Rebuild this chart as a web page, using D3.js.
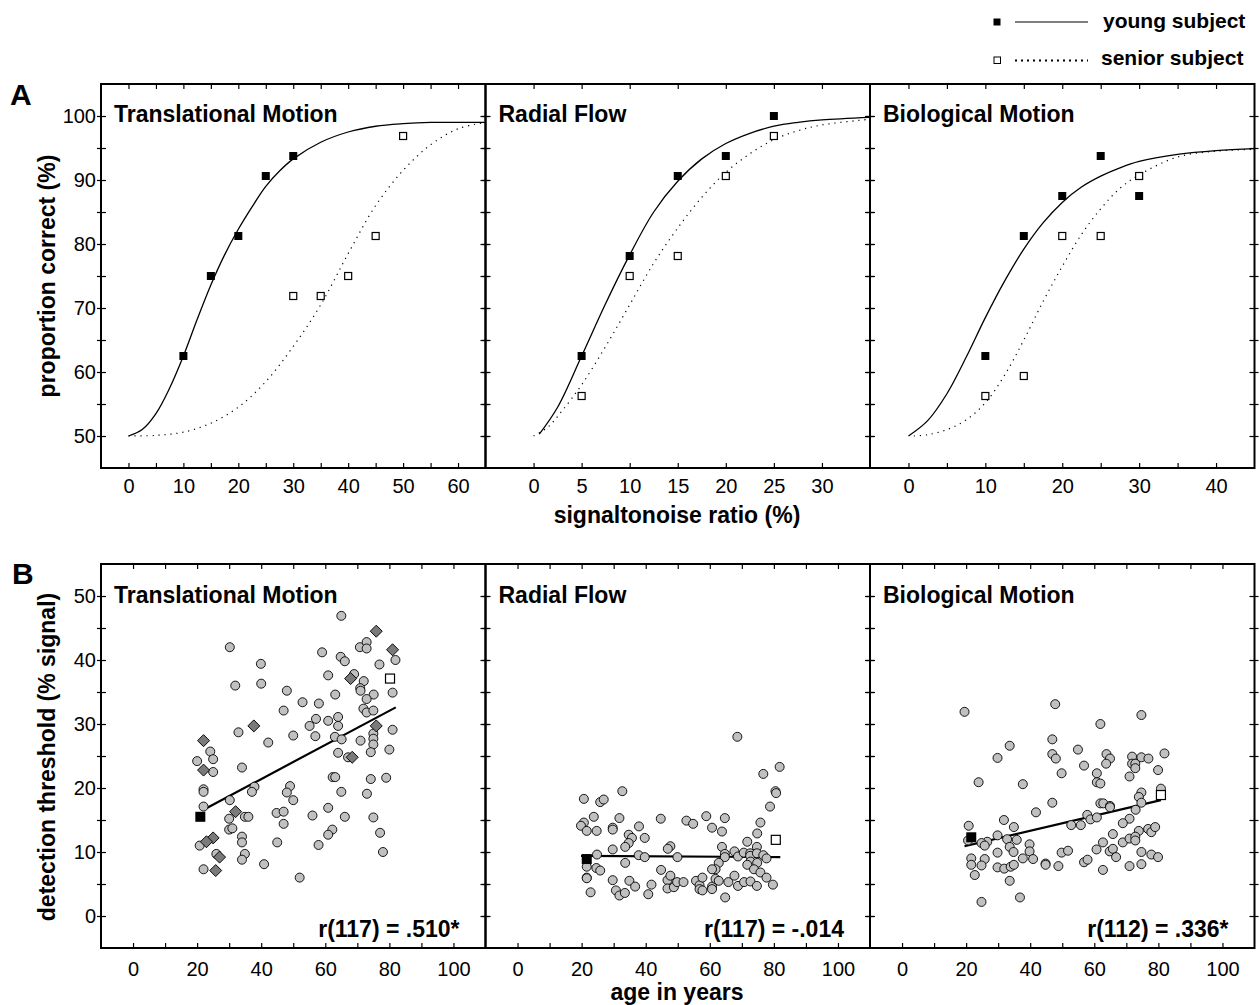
<!DOCTYPE html>
<html>
<head>
<meta charset="utf-8">
<script src="https://cdn.jsdelivr.net/npm/d3@7"></script>
<style>
  body { margin: 0; background: #fff; }
  text { font-family: "Liberation Sans", Arial, sans-serif; }
</style>
</head>
<body>
<svg id="chart"></svg>
<script>
// panel names and correlation labels
const taskNames = ["Translational Motion", "Radial Flow", "Biological Motion"];
const corrLabels = ["r(117) = .510*", "r(117) = -.014", "r(112) = .336*"];

// A: proportion correct (%) against signal-to-noise ratio (%)
const transYoung = [[10, 62.5], [15, 75], [20, 81.25], [25, 90.625], [30, 93.75]];
const transSenior = [[30, 71.875], [35, 71.875], [40, 75], [45, 81.25], [50, 96.875]];
const radialYoung = [[5, 62.5], [10, 78.125], [15, 90.625], [20, 93.75], [25, 100]];
const radialSenior = [[5, 56.25], [10, 75], [15, 78.125], [20, 90.625], [25, 96.875]];
const bioYoung = [[10, 62.5], [15, 81.25], [20, 87.5], [25, 93.75], [30, 87.5]];
const bioSenior = [[10, 56.25], [15, 59.375], [20, 81.25], [25, 81.25], [30, 90.625]];

// fitted curves
const transYoungCurve = [[0, 50], [2.5, 51], [5, 53.5], [7.5, 57.5], [10, 62.5], [12.5, 68.2], [15, 73.6],
  [17.5, 78.3], [20, 82.3], [22.5, 85.8], [25, 89], [27.5, 91.4], [30, 93.3], [35, 95.9], [40, 97.5],
  [45, 98.4], [50, 98.8], [55, 99], [60, 99], [65, 99]];
const transSeniorCurve = [[0, 50], [5, 50.1], [10, 50.6], [15, 52], [20, 54.5], [25, 58.5], [30, 64],
  [35, 70.5], [40, 78.5], [45, 86], [50, 91.5], [55, 95.5], [60, 98], [65, 99]];
const radialYoungCurve = [[0.6, 50.3], [2.5, 54.5], [5, 62.5], [7.5, 70.7], [10, 78.3], [12.5, 85],
  [15, 89.8], [17.5, 93.3], [20, 95.7], [22.5, 97.3], [25, 98.4], [27.5, 99], [30, 99.4], [35, 99.8]];
const radialSeniorCurve = [[0, 50], [1.5, 51.4], [3, 54], [5, 58], [7.5, 64], [10, 70.5], [12.5, 77],
  [15, 82.5], [17.5, 87.3], [20, 91.2], [22.5, 94.1], [25, 96.3], [27.5, 97.7], [30, 98.6], [35, 99.5]];
const bioYoungCurve = [[0, 50], [2.5, 52.4], [5, 56.6], [7.5, 62.3], [10, 68.5], [12.5, 74.2], [15, 79.2],
  [17.5, 83.3], [20, 86.5], [22.5, 88.9], [25, 90.6], [27.5, 91.9], [30, 92.9], [35, 94], [40, 94.6], [45, 94.9]];
const bioSeniorCurve = [[0.7, 50], [2.5, 50.2], [5, 51], [7.5, 52.5], [10, 55.2], [12.5, 59.5], [15, 65],
  [17.5, 71], [20, 76.5], [22.5, 81.5], [25, 85.5], [27.5, 88.7], [30, 90.8], [35, 93.6], [40, 94.5], [45, 94.8]];

// B: detection threshold (% signal) against age in years
const transAgeThr = [[65, 46.9], [30.2, 42.0], [59, 41.2], [39.9, 39.4], [64.8, 40.5], [66.1, 39.8],
  [70.8, 42.0], [72.9, 42.8], [72.9, 41.8], [76.9, 39.3], [81.9, 40.0], [31.9, 36.0], [40, 36.3],
  [60.9, 37.6], [69, 37.8], [72, 36.7], [70.9, 35.6], [71, 35.2], [81, 34.9], [75.1, 34.6], [48, 35.2],
  [63.1, 34.6], [72.9, 33.9], [52.9, 33.4], [58, 33.2], [47, 32.1], [71.9, 32.4], [72.9, 31.8], [75, 32.1],
  [57.1, 30.8], [64, 31.1], [60.9, 30.5], [55.1, 29.7], [64, 29.7], [32.9, 28.7], [50, 28.2], [56.9, 28.1],
  [63, 28.0], [65.1, 27.6], [42.2, 27.1], [71, 27.4], [75, 28.5], [75, 27.7], [75, 26.8], [81, 29.1],
  [64, 25.5], [74.2, 25.6], [80, 26.0], [24.1, 25.7], [20, 24.2], [25, 24.5], [25, 22.5], [67.1, 24.8],
  [34, 23.2], [62.3, 21.7], [63.1, 21.7], [74.2, 21.4], [79, 21.6], [22, 19.8], [22, 19.4], [37.9, 20.2],
  [37.1, 19.4], [49, 20.3], [48, 19.3], [50, 18.1], [65, 19.4], [73, 19.1], [30.2, 18.1], [22, 17.1],
  [60.9, 16.9], [44.8, 16.1], [47, 16.3], [56, 15.7], [34.9, 15.5], [36, 15.5], [30, 15.2], [66.1, 15.5],
  [75, 15.4], [47, 14.4], [30, 13.5], [31, 13.7], [34, 12.4], [34, 11.5], [62.2, 13.5], [60.9, 12.7],
  [77.1, 13.0], [20.8, 11.0], [45, 11.5], [57.9, 11.1], [78, 10.0], [34.9, 9.7], [34, 8.8], [26, 9.7],
  [40.9, 8.1], [22, 7.3], [52, 6.0]];
const transOutliers = [[75.9, 44.5], [81, 41.6], [67.9, 37.1], [37.7, 29.7], [75.9, 29.7], [22, 27.4],
  [22, 22.8], [68.4, 24.8], [32, 16.3], [25, 12.2], [22.9, 11.6], [27, 9.2], [25.8, 7.1]];
const radialAgeThr = [[68.6, 28.0], [81.8, 23.3], [76.7, 22.2], [80.5, 19.5], [80.7, 19.2], [78.8, 17.1],
  [20.7, 18.3], [25.8, 17.8], [26.9, 18.2], [32.7, 19.5], [23.8, 15.5], [20.7, 14.6], [19.8, 14.1],
  [21.6, 13.3], [24.7, 13.3], [29.7, 13.8], [29.7, 13.5], [31.8, 15.3], [37.9, 14.0], [44.7, 15.2],
  [52.7, 14.9], [54.8, 14.4], [58.9, 15.6], [64.7, 15.3], [60.7, 13.8], [63.8, 13.2], [75.8, 14.6],
  [74.8, 12.9], [34.7, 12.7], [35.7, 12.2], [34.7, 11.4], [39.7, 12.2], [33.6, 10.8], [29.7, 10.4],
  [47.7, 10.9], [46.9, 10.5], [63.8, 10.8], [71.7, 11.6], [74.7, 10.8], [67.7, 10.1], [24.8, 9.6],
  [37.8, 9.5], [39.7, 9.2], [49.9, 9.2], [64.7, 9.7], [64.7, 9.2], [68.8, 9.3], [70.6, 9.9], [72.6, 9.8],
  [72.6, 9.4], [74.7, 9.8], [76.7, 9.5], [77.7, 9.0], [21.6, 7.7], [33.6, 8.3], [62.8, 8.3], [61.8, 7.3],
  [60.7, 7.3], [72.7, 8.5], [71.7, 8.0], [74.8, 8.3], [73.8, 7.3], [75.8, 6.8], [24.6, 7.5], [25.8, 7.1],
  [44.8, 7.2], [21.6, 6.0], [21.6, 5.9], [29.7, 5.6], [34.9, 5.5], [36.7, 4.6], [30.7, 4.0], [31.8, 3.2],
  [33.5, 3.6], [40.8, 3.4], [41.8, 4.9], [46.8, 5.6], [47.7, 6.3], [46.8, 4.3], [48.8, 4.5], [49.8, 5.3],
  [51.8, 5.3], [55.7, 5.5], [56.8, 4.8], [56.8, 4.2], [57.7, 4.0], [57.7, 6.0], [60.7, 4.6], [60.7, 4.2],
  [61.8, 5.8], [62.8, 5.5], [64.8, 2.9], [65.8, 5.3], [67.7, 6.3], [68.8, 4.7], [70.7, 5.3], [72.7, 5.4],
  [74.7, 4.7], [77.7, 6.0], [79.7, 4.9], [22.8, 3.7]];
const bioAgeThr = [[19.5, 31.9], [47.8, 33.1], [74.7, 31.4], [61.9, 30.0], [33.6, 26.6], [46.9, 27.6],
  [46.9, 25.3], [48, 24.6], [54.9, 26.0], [29.8, 24.7], [63.8, 25.3], [64.9, 24.6], [63.7, 23.8],
  [71.8, 24.9], [74.7, 24.8], [76.9, 24.6], [81.9, 25.4], [71.8, 23.8], [72.8, 23.8], [72.8, 23.1],
  [56.8, 23.5], [49.8, 22.3], [60.8, 22.3], [79.9, 22.8], [71, 21.8], [23.9, 20.9], [37.7, 20.6],
  [60.8, 20.9], [61.9, 20.7], [74.7, 19.3], [73.9, 18.6], [80.8, 19.9], [46.9, 17.7], [61.9, 17.6],
  [62.8, 17.6], [64.9, 17.2], [64.9, 17.0], [74.7, 17.7], [72.9, 16.6], [41.8, 16.2], [57.8, 15.8],
  [58.8, 15.1], [60.8, 15.4], [31.8, 15.0], [20.8, 14.1], [52.8, 14.2], [55.8, 14.2], [34.9, 13.9],
  [71, 15.2], [68.9, 14.5], [76.8, 13.6], [77.8, 13.1], [79, 13.9], [73.9, 13.3], [65.8, 12.8],
  [29.8, 12.6], [20.6, 11.8], [26.6, 11.6], [24.8, 11.4], [25.8, 11.0], [32.8, 12.0], [35.8, 11.9],
  [39.8, 11.2], [33.6, 10.8], [34.8, 10.0], [29.8, 9.9], [39.8, 10.1], [62.7, 11.5], [60.7, 10.4],
  [64.8, 10.1], [65.8, 10.5], [68.9, 11.5], [71, 12.1], [72.8, 12.4], [72.8, 11.8], [49.8, 9.9],
  [51.8, 10.2], [66.8, 9.2], [74.7, 10.0], [77.8, 9.6], [79.9, 9.2], [21.6, 9.0], [37.7, 9.0],
  [40.9, 8.9], [25.8, 8.9], [21.6, 8.0], [24.8, 7.9], [29.8, 7.6], [31.9, 7.4], [33.9, 7.7], [34.9, 8.0],
  [44.8, 8.2], [44.8, 8.0], [48.8, 7.8], [56.8, 8.4], [57.9, 8.8], [62.7, 7.2], [71, 7.8], [74.7, 8.1],
  [22.7, 6.4], [33.6, 5.5], [36.8, 2.9], [24.8, 2.2]];

// the young (filled) and senior (open) subject of part A, marked in part B
const youngInB = [[21, 15.5], [21.6, 8.9], [21.6, 12.3]];
const seniorInB = [[80.2, 37.1], [80.6, 11.9], [80.8, 18.9]];
// regression lines: start and end
const transFit = [[22, 16.6], [82, 32.6]];
const radialFit = [[19.8, 9.4], [82, 9.2]];
const bioFit = [[19.5, 10.9], [80.8, 18.1]];

// ticks and tick labels
const snrTicks = [[0, 5, 10, 15, 20, 25, 30, 35, 40, 45, 50, 55, 60], [0, 5, 10, 15, 20, 25, 30],
  [0, 5, 10, 15, 20, 25, 30, 35, 40]];
const snrLabels = [[0, 10, 20, 30, 40, 50, 60], [0, 5, 10, 15, 20, 25, 30], [0, 10, 20, 30, 40]];
const pcTicks = [50, 55, 60, 65, 70, 75, 80, 85, 90, 95, 100];
const pcLabels = [50, 60, 70, 80, 90, 100];
const ageTicks = [0, 10, 20, 30, 40, 50, 60, 70, 80, 90, 100];
const ageLabels = [0, 20, 40, 60, 80, 100];
const thrTicks = [0, 5, 10, 15, 20, 25, 30, 35, 40, 45, 50];
const thrLabels = [0, 10, 20, 30, 40, 50];

// layout
let width = 1260, height = 1005;
let panelX = [101, 485.5, 870];
let panelW = 384.5, panelH = 384;
let topA = 84, topB = 564;
let snrDomains = [[-5, 65], [-5, 35], [-5, 45]];

let svg = d3.select("#chart").attr("width", width).attr("height", height);

let drawFrame = function(g, x, y, xTicks, xLabels, yTicks, yLabels, first, pad) {
  let fmt = labels => d => (labels.includes(d) ? d : "");
  g.append("g")
    .attr("transform", `translate(0,${panelH})`)
    .call(d3.axisBottom(x).tickValues(xTicks).tickSize(-5).tickPadding(pad).tickFormat(fmt(xLabels)));
  g.append("g").call(d3.axisTop(x).tickValues(xTicks).tickSize(-5).tickFormat(""));
  // left edge: ticks cross the line
  g.append("g").call(d3.axisLeft(y).tickValues(yTicks).tickSize(4).tickPadding(1)
    .tickFormat(first ? fmt(yLabels) : ""));
  g.append("g").call(d3.axisRight(y).tickValues(yTicks).tickSize(5).tickFormat(""));
  g.append("g").attr("transform", `translate(${panelW},0)`)
    .call(d3.axisRight(y).tickValues(yTicks).tickSize(4).tickFormat(""));
  g.append("g").attr("transform", `translate(${panelW},0)`)
    .call(d3.axisLeft(y).tickValues(yTicks).tickSize(5).tickFormat(""));
  g.selectAll(".domain").remove();
  g.selectAll(".tick line").attr("stroke-width", 1.2);
  g.selectAll(".tick text")
    .attr("font-size", 20)
    .attr("font-family", '"Liberation Sans", Arial, sans-serif');
  g.append("rect")
    .attr("width", panelW)
    .attr("height", panelH)
    .attr("fill", "none")
    .attr("stroke", "#000")
    .attr("stroke-width", 2);
};

let title = function(g, txt, yy) {
  g.append("text")
    .attr("x", 13)
    .attr("y", yy)
    .attr("font-size", 23)
    .attr("font-weight", "bold")
    .text(txt);
};

// ---- part A ----
let youngA = [transYoung, radialYoung, bioYoung];
let seniorA = [transSenior, radialSenior, bioSenior];
let youngCurves = [transYoungCurve, radialYoungCurve, bioYoungCurve];
let seniorCurves = [transSeniorCurve, radialSeniorCurve, bioSeniorCurve];
let pcScale = d3.scaleLinear().domain([45, 105]).range([panelH, 0]);

taskNames.forEach(function(name, i) {
  let g = svg.append("g").attr("transform", `translate(${panelX[i]},${topA})`);
  let x = d3.scaleLinear().domain(snrDomains[i]).range([0, panelW]);
  let line = d3.line().x(d => x(d[0])).y(d => pcScale(d[1])).curve(d3.curveCatmullRom);

  g.append("path")
    .attr("d", line(seniorCurves[i]))
    .attr("fill", "none")
    .attr("stroke", "#000")
    .attr("stroke-width", 1.2)
    .attr("stroke-dasharray", "1.2,4.8");
  g.append("path")
    .attr("d", line(youngCurves[i]))
    .attr("fill", "none")
    .attr("stroke", "#000")
    .attr("stroke-width", 1.3);

  g.selectAll(".sen")
    .data(seniorA[i])
    .join("rect")
    .attr("x", d => x(d[0]) - 3.5)
    .attr("y", d => pcScale(d[1]) - 3.5)
    .attr("width", 7)
    .attr("height", 7)
    .attr("fill", "#fff")
    .attr("stroke", "#000")
    .attr("stroke-width", 1.2);
  g.selectAll(".yng")
    .data(youngA[i])
    .join("rect")
    .attr("x", d => x(d[0]) - 4)
    .attr("y", d => pcScale(d[1]) - 4)
    .attr("width", 8)
    .attr("height", 8)
    .attr("fill", "#000");

  drawFrame(g, x, pcScale, snrTicks[i], snrLabels[i], pcTicks, pcLabels, i === 0, 11);
  title(g, name, 38);
});

// ---- part B ----
let circlesB = [transAgeThr, radialAgeThr, bioAgeThr];
let fitsB = [transFit, radialFit, bioFit];
let ageScale = d3.scaleLinear().domain([-10, 110]).range([0, panelW]);
let thrScale = d3.scaleLinear().domain([-5, 55]).range([panelH, 0]);

taskNames.forEach(function(name, i) {
  let g = svg.append("g").attr("transform", `translate(${panelX[i]},${topB})`);
  let fit = d3.line().x(d => ageScale(d[0])).y(d => thrScale(d[1]));

  g.append("path")
    .attr("d", fit(fitsB[i]))
    .attr("stroke", "#000")
    .attr("stroke-width", 2.2);

  g.selectAll("circle")
    .data(circlesB[i])
    .join("circle")
    .attr("cx", d => ageScale(d[0]))
    .attr("cy", d => thrScale(d[1]))
    .attr("r", 4.5)
    .attr("fill", "#c0c0c0")
    .attr("stroke", "#000")
    .attr("stroke-width", 0.9);

  if (i === 0) {
    g.selectAll(".dia")
      .data(transOutliers)
      .join("path")
      .attr("d", d3.symbol(d3.symbolSquare, 72))
      .attr("transform", d => `translate(${ageScale(d[0])},${thrScale(d[1])}) rotate(45)`)
      .attr("fill", "#7a7a7a")
      .attr("stroke", "#000")
      .attr("stroke-width", 0.9);
  }

  g.append("rect")
    .attr("x", ageScale(seniorInB[i][0]) - 4.5)
    .attr("y", thrScale(seniorInB[i][1]) - 4.5)
    .attr("width", 9)
    .attr("height", 9)
    .attr("fill", "#fff")
    .attr("stroke", "#000")
    .attr("stroke-width", 1.2);
  g.append("rect")
    .attr("x", ageScale(youngInB[i][0]) - 5)
    .attr("y", thrScale(youngInB[i][1]) - 5)
    .attr("width", 10)
    .attr("height", 10)
    .attr("fill", "#000");

  drawFrame(g, ageScale, thrScale, ageTicks, ageLabels, thrTicks, thrLabels, i === 0, 14);
  title(g, name, 39);

  g.append("text")
    .attr("x", panelW - 26)
    .attr("y", 373)
    .attr("text-anchor", "end")
    .attr("font-size", 23)
    .attr("font-weight", "bold")
    .text(corrLabels[i]);
});

// ---- axis titles and panel letters ----
let boldText = function(txt, x, y, size, rotate) {
  let t = svg.append("text")
    .attr("font-size", size)
    .attr("font-weight", "bold")
    .text(txt);
  if (rotate) {
    t.attr("transform", `translate(${x},${y}) rotate(-90)`)
      .attr("text-anchor", "middle")
      .attr("dy", "0.35em");
  } else {
    t.attr("x", x).attr("y", y);
  }
  return t;
};

boldText("signaltonoise ratio (%)", 677, 523, 23).attr("text-anchor", "middle");
boldText("age in years", 677, 1000, 23).attr("text-anchor", "middle");
boldText("proportion correct (%)", 47, 276, 23, true);
boldText("detection threshold (% signal)", 47, 757, 23, true);
boldText("A", 10, 105, 30);
boldText("B", 12, 584, 30);

// ---- legend ----
let legend = svg.append("g");
legend.append("rect")
  .attr("x", 993.5).attr("y", 18.5).attr("width", 7).attr("height", 7)
  .attr("fill", "#000");
legend.append("line")
  .attr("x1", 1015).attr("x2", 1088).attr("y1", 22).attr("y2", 22)
  .attr("stroke", "#555").attr("stroke-width", 1.5);
legend.append("text")
  .attr("x", 1103).attr("y", 28)
  .attr("font-size", 21).attr("font-weight", "bold")
  .text("young subject");
legend.append("rect")
  .attr("x", 994).attr("y", 57).attr("width", 6.5).attr("height", 6.5)
  .attr("fill", "#fff").attr("stroke", "#000").attr("stroke-width", 1);
legend.append("line")
  .attr("x1", 1015).attr("x2", 1088).attr("y1", 60.5).attr("y2", 60.5)
  .attr("stroke", "#000").attr("stroke-width", 2).attr("stroke-dasharray", "2,4");
legend.append("text")
  .attr("x", 1101).attr("y", 65)
  .attr("font-size", 21).attr("font-weight", "bold")
  .text("senior subject");
</script>
</body>
</html>
